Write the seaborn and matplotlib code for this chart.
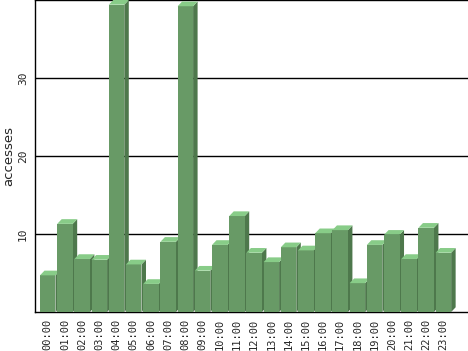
import matplotlib
matplotlib.use('Agg')
import matplotlib.pyplot as plt
from matplotlib.patches import Polygon
import seaborn as sns

hours = ['%02d:00' % h for h in range(24)]
accesses = [4.7, 11.3, 6.8, 6.7, 39.4, 6.1, 3.6, 9.0, 39.2, 5.3, 8.6, 12.3,
            7.6, 6.4, 8.3, 7.9, 10.1, 10.5, 3.7, 8.6, 9.9, 6.8, 10.8, 7.6]

front = '#689a66'
cap = '#88cc88'
side = '#4e784c'

sns.set_style('white')
fig = plt.figure(figsize=(4.68, 3.51), dpi=100)
ax = fig.add_axes([35/468, 39/351, 433/468, 312/351])

sns.barplot(x=hours, y=accesses, color=front, saturation=1, width=0.9, ax=ax)

xmin, xmax = -0.74, 24.43
ymin, ymax = 0, 40
ax.set_xlim(xmin, xmax)
ax.set_ylim(ymin, ymax)

# 3d depth in data units
dx = 4.5 / (433 / (xmax - xmin))
dy = 4.7 / (312 / (ymax - ymin))

for i, p in enumerate(ax.patches):
    x0 = p.get_x()
    x1 = x0 + p.get_width()
    h = p.get_height()
    z = 3 + i * 0.01
    p.set_zorder(z)
    p.set_edgecolor('none')
    ax.add_patch(Polygon([(x0, h), (x1, h), (x1 + dx, h + dy), (x0 + dx, h + dy)],
                         closed=True, facecolor=cap, edgecolor='none', zorder=z))
    ax.add_patch(Polygon([(x1, 0), (x1, h), (x1 + dx, h + dy), (x1 + dx, dy)],
                         closed=True, facecolor=side, edgecolor='none', zorder=z - 0.001))

ax.set_yticks([10, 20, 30])
ax.yaxis.grid(True, color='black', linewidth=1)
ax.set_axisbelow(True)
for s in ['left', 'bottom', 'top']:
    ax.spines[s].set_visible(True)
    ax.spines[s].set_color('black')
    ax.spines[s].set_linewidth(1)
ax.spines['right'].set_visible(False)

ax.tick_params(axis='both', length=0)
ax.tick_params(axis='x', pad=5, labelrotation=90)
ax.tick_params(axis='y', pad=5)
for t in ax.get_xticklabels():
    t.set_fontfamily('DejaVu Sans Mono')
    t.set_fontsize(7.5)
for t in ax.get_yticklabels():
    t.set_fontfamily('DejaVu Sans Mono')
    t.set_fontsize(8)
    t.set_rotation(90)
    t.set_va('center')

ax.set_xlabel('')
ax.set_ylabel('accesses', fontsize=9.5, family='DejaVu Sans')
ax.yaxis.set_label_coords(-0.046, 0.5)

fig.savefig('out.png', dpi=100)
